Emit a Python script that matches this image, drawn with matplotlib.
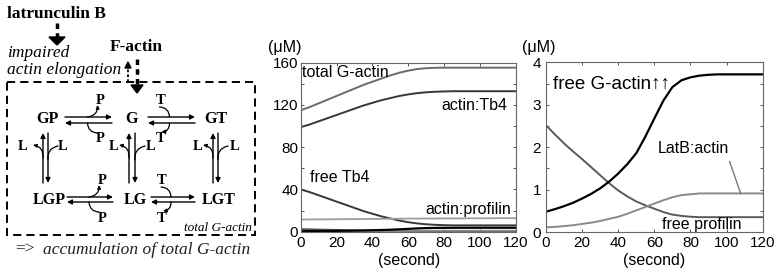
import matplotlib
matplotlib.use("Agg")
import matplotlib.pyplot as plt
from matplotlib.patches import FancyArrowPatch, Rectangle, Polygon
from matplotlib.ticker import MultipleLocator

# ---------------- data ----------------
t = [0, 5, 10, 15, 20, 25, 30, 35, 40, 45, 50, 55, 60, 65, 70, 75, 80, 85, 90, 95, 100, 105, 110, 115, 120]

total_g_actin = [115, 118, 121.5, 125, 128.5, 132, 135.5, 139, 142, 145, 148, 150.5, 152.5, 154, 154.8,
                 155.2, 155.3, 155.3, 155.3, 155.3, 155.3, 155.3, 155.3, 155.3, 155.3]
actin_tb4 = [99, 101.5, 104.5, 107.5, 110.5, 113.5, 116.5, 119.5, 122, 124.5, 126.5, 128.5, 130, 131.2, 132,
             132.5, 132.8, 133, 133, 133, 133, 133, 133, 133, 133]
free_tb4 = [40, 37.5, 34.5, 31.5, 28.5, 25.5, 22.5, 19.5, 17, 14.5, 12.5, 10.5, 9, 7.8, 7,
            6.5, 6.2, 6, 6, 6, 6, 6, 6, 6, 6]
actin_profilin = [11.5, 11.6, 11.7, 11.7, 11.8, 11.9, 11.9, 12.0, 12.1, 12.2, 12.2, 12.3, 12.4, 12.4, 12.5,
                  12.5, 12.6, 12.6, 12.6, 12.7, 12.7, 12.7, 12.8, 12.8, 12.8]

free_g_actin = [0.48, 0.54, 0.61, 0.69, 0.79, 0.90, 1.03, 1.19, 1.38, 1.60, 1.86, 2.25, 2.68, 3.10, 3.42,
                3.58, 3.65, 3.69, 3.71, 3.72, 3.72, 3.72, 3.72, 3.72, 3.72]
free_profilin = [2.52, 2.30, 2.09, 1.90, 1.72, 1.53, 1.34, 1.15, 0.98, 0.84, 0.72, 0.63, 0.55, 0.47, 0.41,
                 0.38, 0.36, 0.35, 0.35, 0.35, 0.35, 0.35, 0.35, 0.35, 0.35]
latb_actin = [0.11, 0.12, 0.14, 0.16, 0.19, 0.22, 0.26, 0.31, 0.36, 0.43, 0.51, 0.59, 0.67, 0.75, 0.82,
              0.87, 0.89, 0.91, 0.91, 0.91, 0.91, 0.91, 0.91, 0.91, 0.91]

x_ticks = [0, 20, 40, 60, 80, 100, 120]
left_yticks = [0, 40, 80, 120, 160]
right_yticks = [0, 1, 2, 3, 4]

# ---------------- figure ----------------
W, H = 779, 274
fig = plt.figure(figsize=(W / 100, H / 100), dpi=100)
SANS = ["Liberation Sans", "DejaVu Sans"]
SERIF = ["Liberation Serif", "DejaVu Serif"]
plt.rcParams["font.family"] = SANS


def fax(x0, y0, x1, y1):
    return [x0 / W, 1 - y1 / H, (x1 - x0) / W, (y1 - y0) / H]


def style_axes(ax, ymax, ymajor, yminor, ypad):
    ax.set_xlim(0, 120)
    ax.set_ylim(0, ymax)
    ax.xaxis.set_major_locator(MultipleLocator(20))
    ax.yaxis.set_major_locator(MultipleLocator(ymajor))
    ax.yaxis.set_minor_locator(MultipleLocator(yminor))
    ax.tick_params(which="both", direction="in", top=True, right=True, colors="#555555",
                   labelcolor="black", labelsize=11, width=0.7)
    ax.tick_params(which="major", length=2.5)
    ax.tick_params(which="minor", length=2.5)
    ax.tick_params(axis="y", pad=ypad)
    ax.tick_params(axis="x", pad=3.2)
    for s in ax.spines.values():
        s.set_color("#666666")
        s.set_linewidth(0.8)


# ---- left plot ----
axL = fig.add_axes(fax(300.7, 62.7, 516, 231.7))
style_axes(axL, 160, 40, 20, 1.8)
axL.set_xticks(x_ticks)
axL.set_yticks(left_yticks)
axL.plot(t, total_g_actin, color="#6a6a6a", lw=1.4)
axL.plot(t, actin_tb4, color="#383838", lw=1.4)
axL.plot(t, free_tb4, color="#383838", lw=1.4)
axL.plot(t, actin_profilin, color="#9c9c9c", lw=1.3)
axL.plot(t, free_profilin, color="#555555", lw=1.3)
axL.plot(t, latb_actin, color="#888888", lw=1.3)
axL.plot(t, free_g_actin, color="black", lw=1.6)
axL.text(1.0, 146.8, "total G-actin", fontsize=11.5)
axL.text(115, 115.2, "actin:Tb4", fontsize=11.5, ha="right")
axL.text(5, 47.3, "free Tb4", fontsize=11.5)
axL.text(117.5, 17.2, "actin:profilin", fontsize=11.5, ha="right")

# ---- right plot ----
axR = fig.add_axes(fax(546, 62.5, 762.7, 232))
style_axes(axR, 4, 1, 0.5, 3.6)
axR.set_xticks(x_ticks)
axR.set_yticks(right_yticks)
axR.plot(t, free_profilin, color="#5a5a5a", lw=1.4)
axR.plot(t, latb_actin, color="#8a8a8a", lw=1.4)
axR.plot(t, free_g_actin, color="black", lw=1.6)
axR.text(3.9, 3.39, "free G-actin\u2191\u2191", fontsize=13.5)
axR.text(62, 1.86, "LatB:actin", fontsize=11.5)
axR.text(64, 0.06, "free profilin", fontsize=11.5)
axR.plot([101.7, 107.8], [1.66, 0.91], color="#777777", lw=1.0)

# axis captions
for xc, yc, s in [(285, 47, "(\u03bcM)"), (538.5, 47.5, "(\u03bcM)"),
                  (409, 260, "(second)"), (654, 260, "(second)")]:
    fig.text(xc / W, 1 - yc / H, s, ha="center", va="center", fontsize=11.5)

# ---------------- reaction diagram ----------------
ax0 = fig.add_axes([0, 0, 260 / W, 1])
ax0.set_xlim(0, 260)
ax0.set_ylim(H, 0)
ax0.axis("off")

ax0.text(7, 14, "latrunculin B", family=SERIF, weight="bold", fontsize=12.5, ha="left", va="center")
ax0.text(110, 47, "F-actin", family=SERIF, weight="bold", fontsize=12.5, ha="left", va="center")
ax0.text(7, 53, "impaired", family=SERIF, style="italic", fontsize=12.5, ha="left", va="center")
ax0.text(7, 70, "actin elongation", family=SERIF, style="italic", fontsize=12.5, ha="left", va="center")
ax0.text(15, 250, "=>", family=SERIF, fontsize=12.5, ha="left", va="center", color="#222222")
ax0.text(43, 250, "accumulation of total G-actin", family=SERIF, style="italic", fontsize=12.5,
         ha="left", va="center", color="#222222")
ax0.text(252, 228, "total G-actin", family=SERIF, style="italic", fontsize=9.5, ha="right", va="center")

# dashed box
ax0.add_patch(Rectangle((7, 82), 248, 153, fill=False, lw=1.4, ls=(0, (4.2, 2.6)), ec="black"))

# latrunculin arrow
ax0.plot([57, 57], [23, 37], color="black", lw=2.5, ls=(0, (1.6, 1.2)))
ax0.add_patch(Polygon([[49, 37], [65, 37], [57, 45]], closed=True, fc="black", ec="black"))
# F-actin arrows
ax0.plot([137, 137], [59, 85], color="black", lw=2.5, ls=(0, (1.6, 1.2)))
ax0.add_patch(Polygon([[131, 85], [143, 85], [137, 93]], closed=True, fc="black", ec="black"))
ax0.plot([128, 128], [82, 68], color="black", lw=1.3, ls=(0, (1.5, 1.2)))
ax0.add_patch(Polygon([[125, 68], [131, 68], [128, 62]], closed=True, fc="black", ec="black"))

species = [("GP", 47, 119), ("G", 132, 119), ("GT", 216, 119),
           ("LGP", 49, 200), ("LG", 135, 200), ("LGT", 219, 200)]
for name, x, y in species:
    ax0.text(x, y, name, family=SERIF, weight="bold", fontsize=11.5, ha="center", va="center")


def straight(p0, p1):
    ax0.add_patch(FancyArrowPatch(p0, p1, arrowstyle="-|>", mutation_scale=7, lw=1.0,
                                  color="black", shrinkA=0, shrinkB=0))


def curve(p0, p1, rad, head):
    ax0.add_patch(FancyArrowPatch(p0, p1, connectionstyle=f"arc3,rad={rad}",
                                  arrowstyle="-|>" if head else "-", mutation_scale=5, lw=0.9,
                                  color="black", shrinkA=0, shrinkB=0))


def small(x, y, s):
    ax0.text(x, y, s, family=SERIF, weight="bold", fontsize=10.5, ha="center", va="center")


# horizontal pairs
for (xa, xb, yt, yb, lab, binding_top) in [(65, 112, 117, 123, "P", False), (148, 195, 117, 123, "T", True),
                                           (67, 113, 197, 202, "P", False), (151, 195, 197, 202, "T", True)]:
    straight((xa, yt), (xb, yt))
    straight((xb, yb), (xa, yb))
    xm = (xa + xb) / 2
    if not binding_top:  # P released on top, binds on bottom
        curve((xm - 1, yt), (xm + 9, yt - 12), 0.45, True)
        curve((xm + 9, yb + 10), (xm - 1, yb), -0.45, False)
        small(xm + 12, yt - 17, lab)
        small(xm + 12, yb + 16, lab)
    else:  # T binds on top, released on bottom
        curve((xm - 12, yt - 10), (xm - 2, yt), -0.45, False)
        curve((xm - 2, yb), (xm - 10, yb + 9), -0.45, True)
        small(xm - 11, yt - 17, lab)
        small(xm - 11, yb + 16, lab)

# vertical pairs
for (xu, xd, ll, lr) in [(43, 48, 23, 63), (129, 135, 114, 151), (213, 218, 198, 235)]:
    straight((xu, 183), (xu, 133))
    straight((xd, 133), (xd, 183))
    curve((xu, 158), (xu - 10, 145), 0.45, True)
    curve((xd + 10, 146), (xd, 160), 0.45, False)
    small(ll, 147, "L")
    small(lr, 147, "L")

fig.savefig("out.png", dpi=100)
